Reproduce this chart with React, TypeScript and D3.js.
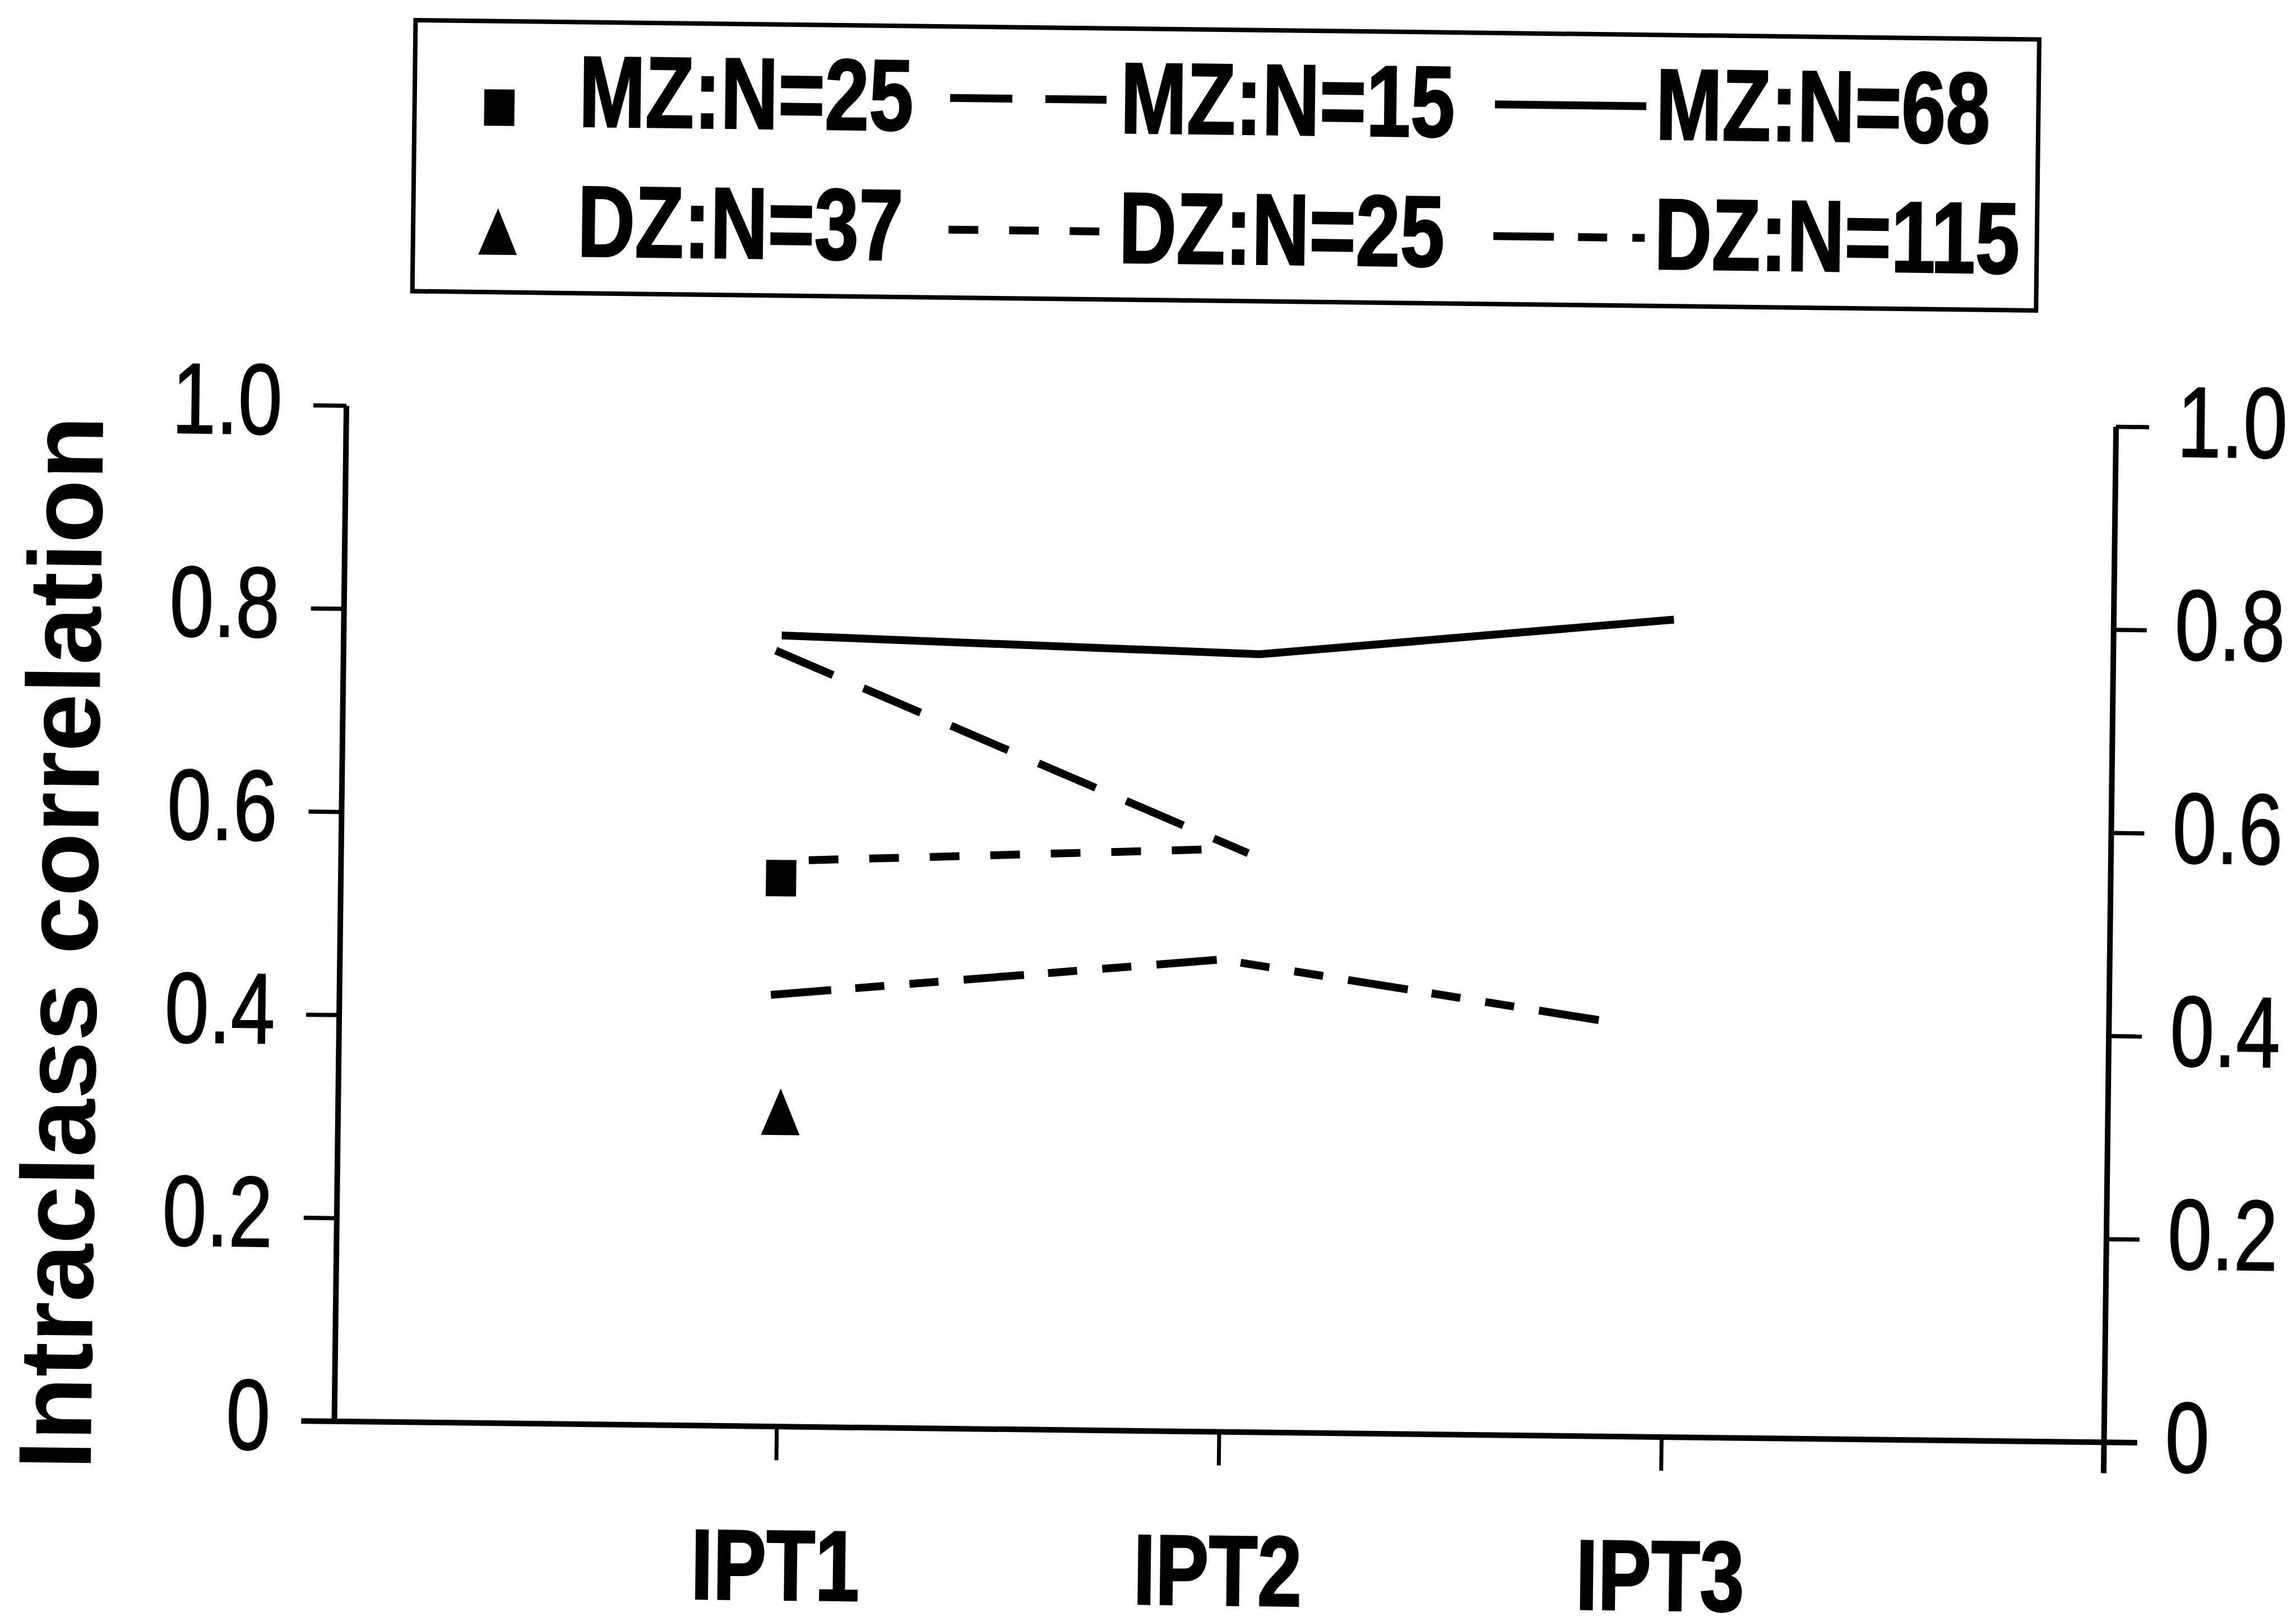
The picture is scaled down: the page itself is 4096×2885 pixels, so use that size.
import React from "react";
import * as d3 from "d3";

const W = 4096;
const H = 2885;
const FONT = "'Liberation Sans', Arial, Helvetica, sans-serif";

// x positions: 0 = left axis, 4 = right axis, the three tests sit on 1..3
const categories = ["IPT1", "IPT2", "IPT3"];
const categoryPos = [1, 2, 3];
const yTicks = [0, 0.2, 0.4, 0.6, 0.8, 1.0];

// values (vertices are a little off the ticks in the original)
const mz68 = [
  { pos: 0.99, r: 0.779 },
  { pos: 2.07, r: 0.766 },
  { pos: 3.006, r: 0.805 },
];
const mz15 = [
  { pos: 0.977, r: 0.764 },
  { pos: 2.05, r: 0.57 },
];
const dz25 = [
  { pos: 1.0, r: 0.557 },
  { pos: 2.0, r: 0.574 },
];
const dz115 = [
  { pos: 0.975, r: 0.425 },
  { pos: 1.991, r: 0.465 },
  { pos: 2.859, r: 0.409 },
];
const mz25 = [{ pos: 0.995, r: 0.54 }];
const dz37 = [{ pos: 1.0, r: 0.31 }];

const legendLabels = ["MZ:N=25", "MZ:N=15", "MZ:N=68", "DZ:N=37", "DZ:N=25", "DZ:N=115"];

type Pt = { pos: number; r: number };

const lineSeries = [
  { key: "MZ:N=15", data: mz15, dash: "111 59", offset: 0 },
  { key: "MZ:N=68", data: mz68, dash: "none", offset: 0 },
  { key: "DZ:N=25", data: dz25, dash: "53 55", offset: 63 },
  { key: "DZ:N=115", data: dz115, dash: "108 43 52 45 52 45", offset: 0 },
];

const x = d3.scaleLinear().domain([0, 4]).range([609.6, 3766.8]);
const y = d3.scaleLinear().domain([0, 1]).range([2553, 741]);

const line = d3
  .line<Pt>()
  .x(d => x(d.pos))
  .y(d => y(d.r));

const SQ_W = 54, SQ_H = 65; // marker sizes
const TR_W = 69, TR_H = 83;
const TICK = 59;
const LW = 14;

function triangle(cx: number, cy: number) {
  const p = d3.path();
  p.moveTo(cx, cy - TR_H / 2);
  p.lineTo(cx + TR_W / 2, cy + TR_H / 2);
  p.lineTo(cx - TR_W / 2, cy + TR_H / 2);
  p.closePath();
  return p.toString();
}

const fmt = (v: number) => (v === 0 ? "0" : v.toFixed(1));

export default function App() {
  const x0 = x(0);
  const x4 = x(4);

  // legend layout
  const colText = [1018, 1984, 2939];
  const rowBase = [237.6, 469.2];
  const rowLineY = [179, 414];
  const sampleX = [null, [1680, 1959], [2652, 2922]];
  const markerX = 876;

  const styleFor = (key: string) => lineSeries.find(s => s.key === key);

  return (
    <>
      <style>{`body{margin:0;overflow:hidden}`}</style>
      <svg
        width={W}
        height={H}
        style={{ position: "absolute", left: 0, top: 0, background: "#fff" }}
      >
        <g transform={`rotate(0.68 ${W / 2} ${H / 2})`} fill="#000" stroke="none">
          {/* legend box */}
          <rect x={724.8} y={51.6} width={2896.8} height={483.6} fill="none" stroke="#000" strokeWidth={8} />
          {legendLabels.map((lab, i) => {
            const row = Math.floor(i / 3);
            const col = i % 3;
            const s = styleFor(lab);
            const ly = rowLineY[row];
            return (
              <g key={lab}>
                {col === 0 && row === 0 && (
                  <rect x={markerX - SQ_W / 2} y={205.8 - SQ_H / 2} width={SQ_W} height={SQ_H} />
                )}
                {col === 0 && row === 1 && <path d={triangle(markerX, 427)} />}
                {col > 0 && s && (
                  <line
                    x1={sampleX[col]![0]}
                    x2={sampleX[col]![1]}
                    y1={ly}
                    y2={ly}
                    stroke="#000"
                    strokeWidth={LW}
                    strokeDasharray={s.dash}
                  />
                )}
                <text
                  transform={`translate(${colText[col]},${rowBase[row]}) scale(0.79,1)`}
                  fontFamily={FONT}
                  fontWeight="bold"
                  fontSize={180}
                  stroke="#000"
                  strokeWidth={3}
                >
                  {lab}
                </text>
              </g>
            );
          })}

          {/* axes */}
          <g stroke="#000" fill="none">
            <line x1={x0} x2={x0} y1={y(1)} y2={y(0)} strokeWidth={10} />
            <line x1={x4} x2={x4} y1={y(1)} y2={y(0) + 55} strokeWidth={10} />
            <line x1={x0 - TICK} x2={x4 + TICK} y1={y(0)} y2={y(0)} strokeWidth={10} />
            {yTicks.map(t => (
              <g key={t}>
                <line x1={x0 - TICK} x2={x0} y1={y(t)} y2={y(t)} strokeWidth={7.5} />
                <line x1={x4} x2={x4 + TICK} y1={y(t)} y2={y(t)} strokeWidth={7.5} />
              </g>
            ))}
            {categoryPos.map(p => (
              <line key={p} x1={x(p)} x2={x(p)} y1={y(0)} y2={y(0) + 60} strokeWidth={7} />
            ))}
          </g>

          {/* tick labels */}
          {yTicks.map(t => (
            <g key={t} fontFamily={FONT} fontSize={179} stroke="#000" strokeWidth={2}>
              <text transform={`translate(495,${y(t) + 52}) scale(0.79,1)`} textAnchor="end">
                {fmt(t)}
              </text>
              <text transform={`translate(3876,${y(t) + 52}) scale(0.79,1)`} textAnchor="start">
                {fmt(t)}
              </text>
            </g>
          ))}
          {categories.map((c, i) => (
            <text
              key={c}
              transform={`translate(${x(categoryPos[i])},2862) scale(0.8,1)`}
              textAnchor="middle"
              fontFamily={FONT}
              fontWeight="bold"
              fontSize={178}
              stroke="#000"
              strokeWidth={3}
            >
              {c}
            </text>
          ))}
          <text
            transform="translate(175.8,1705) rotate(-90)"
            textAnchor="middle"
            fontFamily={FONT}
            fontWeight="bold"
            fontSize={185}
            textLength={1880}
            lengthAdjust="spacingAndGlyphs"
          >
            Intraclass correlation
          </text>

          {/* series */}
          {lineSeries.map(s => (
            <path
              key={s.key}
              d={line(s.data) || ""}
              fill="none"
              stroke="#000"
              strokeWidth={LW}
              strokeDasharray={s.dash}
              strokeDashoffset={s.offset}
            />
          ))}
          {mz25.map((d, i) => (
            <rect key={i} x={x(d.pos) - SQ_W / 2} y={y(d.r) - SQ_H / 2} width={SQ_W} height={SQ_H} />
          ))}
          {dz37.map((d, i) => (
            <path key={i} d={triangle(x(d.pos), y(d.r))} />
          ))}
        </g>
      </svg>
    </>
  );
}
